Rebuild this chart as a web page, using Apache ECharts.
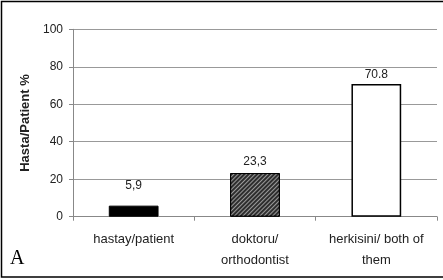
<!DOCTYPE html>
<html><head><meta charset="utf-8">
<script src="https://cdn.jsdelivr.net/npm/echarts@6/dist/echarts.min.js"></script>
<style>html,body{margin:0;padding:0;background:#fff}#c{width:443px;height:280px}</style>
</head><body><div id="c"></div>
<script>
var categories = ['hastay/patient', 'doktoru/\northodontist', 'herkisini/ both of\nthem'];
var values = [5.9, 23.3, 70.8];
var valueLabels = ['5,9', '23,3', '70.8'];
var yTicks = [0, 20, 40, 60, 80, 100];

var styles = [
  {color: '#000', borderColor: '#000', borderWidth: 1},
  {color: '#2e2e2e', borderColor: '#000', borderWidth: 1,
   decal: {symbol: 'rect', dashArrayX: [1, 0], dashArrayY: [1, 2], rotation: -Math.PI / 4, color: '#9a9a9a'}},
  {color: '#fff', borderColor: '#000', borderWidth: 1.5}
];
var labelDist = [14, 5, 3];

var chart = echarts.init(document.getElementById('c'), null, {renderer: 'canvas'});
chart.setOption({
  animation: false,
  textStyle: {fontFamily: 'Liberation Sans, Arial, sans-serif'},
  grid: {left: 73, right: 6, top: 29.3, bottom: 63.3},
  graphic: [
    {type: 'rect', shape: {x: 1.5, y: 1.5, width: 450, height: 275.5}, style: {fill: 'none', stroke: '#000', lineWidth: 1.5}, z: 100},
    {type: 'text', left: 10, top: 249, style: {text: 'A', font: '20px "Liberation Serif", serif', fill: '#000'}}
  ],
  xAxis: {
    type: 'category', data: categories,
    axisLine: {lineStyle: {color: '#888'}},
    axisTick: {show: true, alignWithLabel: false, length: 4, lineStyle: {color: '#888'}},
    axisLabel: {color: '#222', fontSize: 13, lineHeight: 21, margin: 12, interval: 0}
  },
  yAxis: {
    type: 'value', min: yTicks[0], max: yTicks[yTicks.length - 1], interval: yTicks[1] - yTicks[0],
    name: 'Hasta/Patient %', nameLocation: 'middle', nameGap: 39, nameRotate: 90,
    nameTextStyle: {fontSize: 13, fontWeight: 'bold', color: '#222'},
    axisLine: {show: true, lineStyle: {color: '#888'}},
    axisTick: {show: true, length: 4, lineStyle: {color: '#888'}},
    axisLabel: {color: '#222', fontSize: 12, margin: 10},
    splitLine: {lineStyle: {color: '#999'}}
  },
  series: [{
    type: 'bar', barWidth: '41%',
    data: values.map(function (v, i) {
      return {value: v, itemStyle: styles[i],
        label: {show: true, position: 'top', distance: labelDist[i], formatter: valueLabels[i], color: '#222', fontSize: 12}};
    })
  }]
});
</script></body></html>
